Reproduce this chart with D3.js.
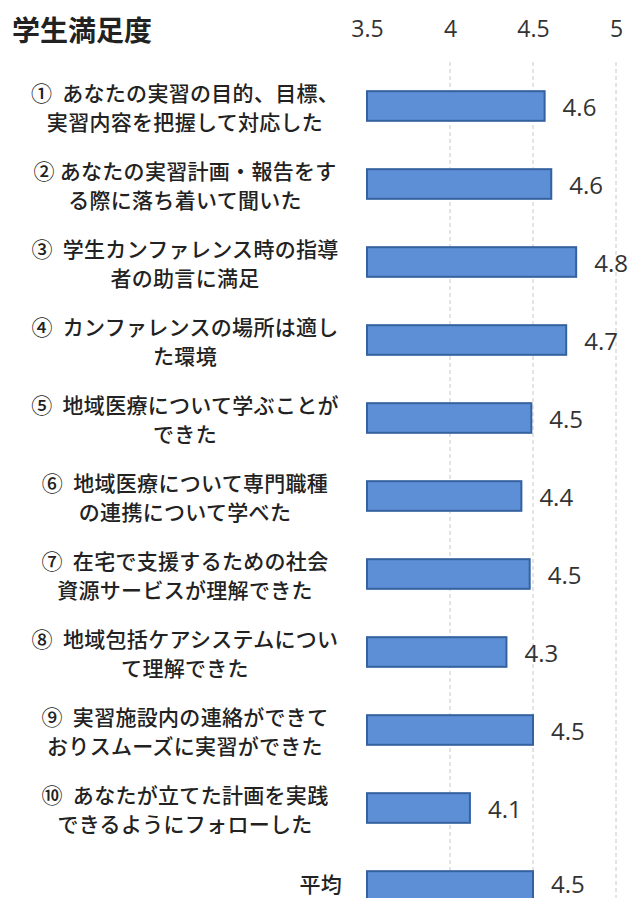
<!DOCTYPE html>
<html><head><meta charset="utf-8">
<script src="https://cdn.jsdelivr.net/npm/d3@7"></script>
<style>
html,body{margin:0;padding:0;background:#fff;}
svg{display:block;}
</style></head>
<body>
<svg id="chart" width="629" height="898"></svg>
<script>
const title = "学生満足度";
const labelLine1 = [
  "①\u00A0\u00A0あなたの実習の目的、目標、",
  "②\u00A0あなたの実習計画・報告をす",
  "③\u00A0\u00A0学生カンファレンス時の指導",
  "④\u00A0\u00A0カンファレンスの場所は適し",
  "⑤\u00A0\u00A0地域医療について学ぶことが",
  "⑥\u00A0\u00A0地域医療について専門職種",
  "⑦\u00A0\u00A0在宅で支援するための社会",
  "⑧\u00A0\u00A0地域包括ケアシステムについ",
  "⑨\u00A0\u00A0実習施設内の連絡ができて",
  "⑩\u00A0\u00A0あなたが立てた計画を実践",
  "平均"
];
const labelLine2 = [
  "実習内容を把握して対応した",
  "る際に落ち着いて聞いた",
  "者の助言に満足",
  "た環境",
  "できた",
  "の連携について学べた",
  "資源サービスが理解できた",
  "て理解できた",
  "おりスムーズに実習ができた",
  "できるようにフォローした",
  ""
];
const values = [4.57, 4.61, 4.76, 4.70, 4.49, 4.43, 4.48, 4.34, 4.50, 4.12, 4.50];
const tickValues = [3.5, 4, 4.5, 5];
const tickLabels = ["3.5", "4", "4.5", "5"];

const svg = d3.select("#chart");
const x = d3.scaleLinear().domain([3.5, 5]).range([367, 616]);
const y = d3.scaleBand().domain(d3.range(values.length)).range([67, 925]).paddingInner(0.62).paddingOuter(0.31);

// gridlines
svg.append("g").selectAll("line").data(tickValues.slice(1)).join("line")
  .attr("x1", d => x(d)).attr("x2", d => x(d))
  .attr("y1", 62).attr("y2", 898)
  .attr("stroke", "#c8c8c8").attr("stroke-width", 1)
  .attr("stroke-dasharray", "4,3");

// top axis labels
const axis = d3.axisTop(x).tickValues(tickValues).tickFormat((d, i) => tickLabels[i]).tickSize(0);
const ag = svg.append("g").attr("transform", "translate(0,40)").call(axis);
ag.select(".domain").remove();
ag.selectAll("text").attr("font-family", "'Open Sans', 'Liberation Sans', sans-serif")
  .attr("font-size", 23).attr("fill", "#333").attr("dy", 0);

// title
svg.append("text").attr("x", 12).attr("y", 41).text(title)
  .attr("font-family", "'Noto Sans CJK JP', sans-serif").attr("font-weight", 700)
  .attr("font-size", 28).attr("fill", "#222");

// bars
svg.append("g").selectAll("rect").data(values).join("rect")
  .attr("x", x(3.5))
  .attr("y", (d, i) => y(i))
  .attr("width", d => x(d) - x(3.5))
  .attr("height", y.bandwidth())
  .attr("fill", "#5d8fd6").attr("stroke", "#34629f").attr("stroke-width", 2);

// value labels
const n = values.length;
svg.append("g").selectAll("text").data(values).join("text")
  .attr("x", d => x(d) + 18)
  .attr("y", (d, i) => y(i) + y.bandwidth() / 2 - (i === n - 1 ? 3 : 0))
  .attr("dominant-baseline", "central")
  .attr("font-family", "'Open Sans', 'Liberation Sans', sans-serif")
  .attr("font-size", 24).attr("fill", "#333")
  .text(d => d.toFixed(1));

// category labels
const lg = svg.append("g").attr("font-family", "'Noto Sans CJK JP', sans-serif")
  .attr("font-size", 21).attr("fill", "#222").attr("font-weight", 500)
  .attr("letter-spacing", 0.3);
labelLine1.forEach((t, i) => {
  const cy = y(i) + y.bandwidth() / 2;
  if (labelLine2[i] === "") {
    lg.append("text").attr("x", 342).attr("y", cy - 3).attr("text-anchor", "end")
      .attr("dominant-baseline", "central").text(t);
  } else {
    lg.append("text").attr("x", 185).attr("y", cy - 14).attr("text-anchor", "middle")
      .attr("dominant-baseline", "central").text(t);
    lg.append("text").attr("x", 185).attr("y", cy + 15).attr("text-anchor", "middle")
      .attr("dominant-baseline", "central").text(labelLine2[i]);
  }
});
</script>
</body></html>
